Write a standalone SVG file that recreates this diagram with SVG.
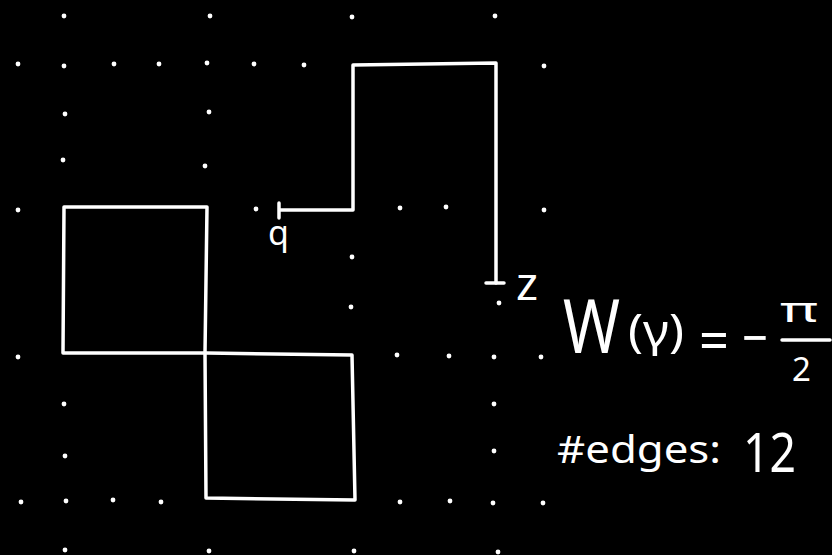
<svg xmlns="http://www.w3.org/2000/svg" width="832" height="555" viewBox="0 0 832 555">
<style>
.dot{fill:#fff}
.ln{fill:none;stroke:#fff;stroke-width:3.5;stroke-linecap:round;stroke-linejoin:round}
.t{fill:#fff;font-family:"Noto Sans","DejaVu Sans",sans-serif}
</style>
<rect width="832" height="555" fill="#000"/>
<g id="grid">
<circle class="dot" cx="64" cy="16" r="2.4"/><circle class="dot" cx="210" cy="16" r="2.4"/><circle class="dot" cx="352" cy="17" r="2.4"/><circle class="dot" cx="495" cy="16" r="2.4"/>
<circle class="dot" cx="18" cy="64" r="2.4"/><circle class="dot" cx="64" cy="66" r="2.4"/><circle class="dot" cx="114" cy="64" r="2.4"/><circle class="dot" cx="159" cy="64" r="2.4"/><circle class="dot" cx="207" cy="63" r="2.4"/><circle class="dot" cx="254" cy="64" r="2.4"/><circle class="dot" cx="304" cy="65" r="2.4"/><circle class="dot" cx="544" cy="66" r="2.4"/>
<circle class="dot" cx="65" cy="114" r="2.4"/><circle class="dot" cx="209" cy="112" r="2.4"/>
<circle class="dot" cx="63" cy="160" r="2.4"/><circle class="dot" cx="205" cy="166" r="2.4"/>
<circle class="dot" cx="18" cy="210" r="2.4"/><circle class="dot" cx="256" cy="209" r="2.4"/><circle class="dot" cx="400" cy="208" r="2.4"/><circle class="dot" cx="446" cy="207" r="2.4"/><circle class="dot" cx="544" cy="210" r="2.4"/>
<circle class="dot" cx="352" cy="257" r="2.4"/>
<circle class="dot" cx="351" cy="307" r="2.4"/><circle class="dot" cx="499" cy="303" r="2.4"/>
<circle class="dot" cx="18" cy="357" r="2.4"/><circle class="dot" cx="397" cy="355" r="2.4"/><circle class="dot" cx="449" cy="356" r="2.4"/><circle class="dot" cx="494" cy="357" r="2.4"/><circle class="dot" cx="541" cy="357" r="2.4"/>
<circle class="dot" cx="64" cy="404" r="2.4"/><circle class="dot" cx="494" cy="404" r="2.4"/>
<circle class="dot" cx="65" cy="456" r="2.4"/><circle class="dot" cx="494" cy="451" r="2.4"/>
<circle class="dot" cx="21" cy="502" r="2.4"/><circle class="dot" cx="66" cy="501" r="2.4"/><circle class="dot" cx="113" cy="500" r="2.4"/><circle class="dot" cx="161" cy="502" r="2.4"/><circle class="dot" cx="400" cy="502" r="2.4"/><circle class="dot" cx="450" cy="501" r="2.4"/><circle class="dot" cx="493" cy="503" r="2.4"/><circle class="dot" cx="543" cy="503" r="2.4"/>
<circle class="dot" cx="65" cy="550" r="2.4"/><circle class="dot" cx="209" cy="551" r="2.4"/><circle class="dot" cx="354" cy="551" r="2.4"/><circle class="dot" cx="498" cy="552" r="2.4"/>
</g>
<g id="connectors">
<polyline id="loop" class="ln" points="64,207 207,207 205,353 206,498 355,500 352,355 207,353 63,353 64,207"/>
<polyline id="path-q-z" class="ln" points="280,210 353,210 353,65 496,63 496,283"/>
<line class="ln" x1="279" y1="203" x2="279" y2="218"/>
<line class="ln" x1="486" y1="283" x2="504" y2="283"/>
</g>
<g id="label-q"><text class="t" x="268" y="245" font-size="34">q</text></g>
<g id="label-z"><text class="t" x="516" y="300" font-size="46" textLength="22" lengthAdjust="spacingAndGlyphs">z</text></g>
<g id="winding">
<text class="t" x="563" y="353" font-size="74" textLength="57" lengthAdjust="spacingAndGlyphs">W</text>
<text class="t" x="628" y="347" font-size="46" textLength="56" lengthAdjust="spacingAndGlyphs">(γ)</text>
<text class="t" x="699" y="360" font-size="54" textLength="30" lengthAdjust="spacingAndGlyphs">=</text>
<text class="t" x="742" y="357" font-size="54" textLength="26" lengthAdjust="spacingAndGlyphs">−</text>
<text class="t" x="780" y="322" font-size="34" textLength="38" lengthAdjust="spacingAndGlyphs">π</text>
<line class="ln" x1="782" y1="340" x2="830" y2="340"/>
<text class="t" x="792" y="381" font-size="33">2</text>
</g>
<g id="edges">
<text class="t" x="557" y="463" font-size="38"><tspan textLength="164" lengthAdjust="spacingAndGlyphs">#edges:</tspan><tspan x="743" y="472" font-size="55" textLength="53" lengthAdjust="spacingAndGlyphs">12</tspan></text>
</g>
</svg>
